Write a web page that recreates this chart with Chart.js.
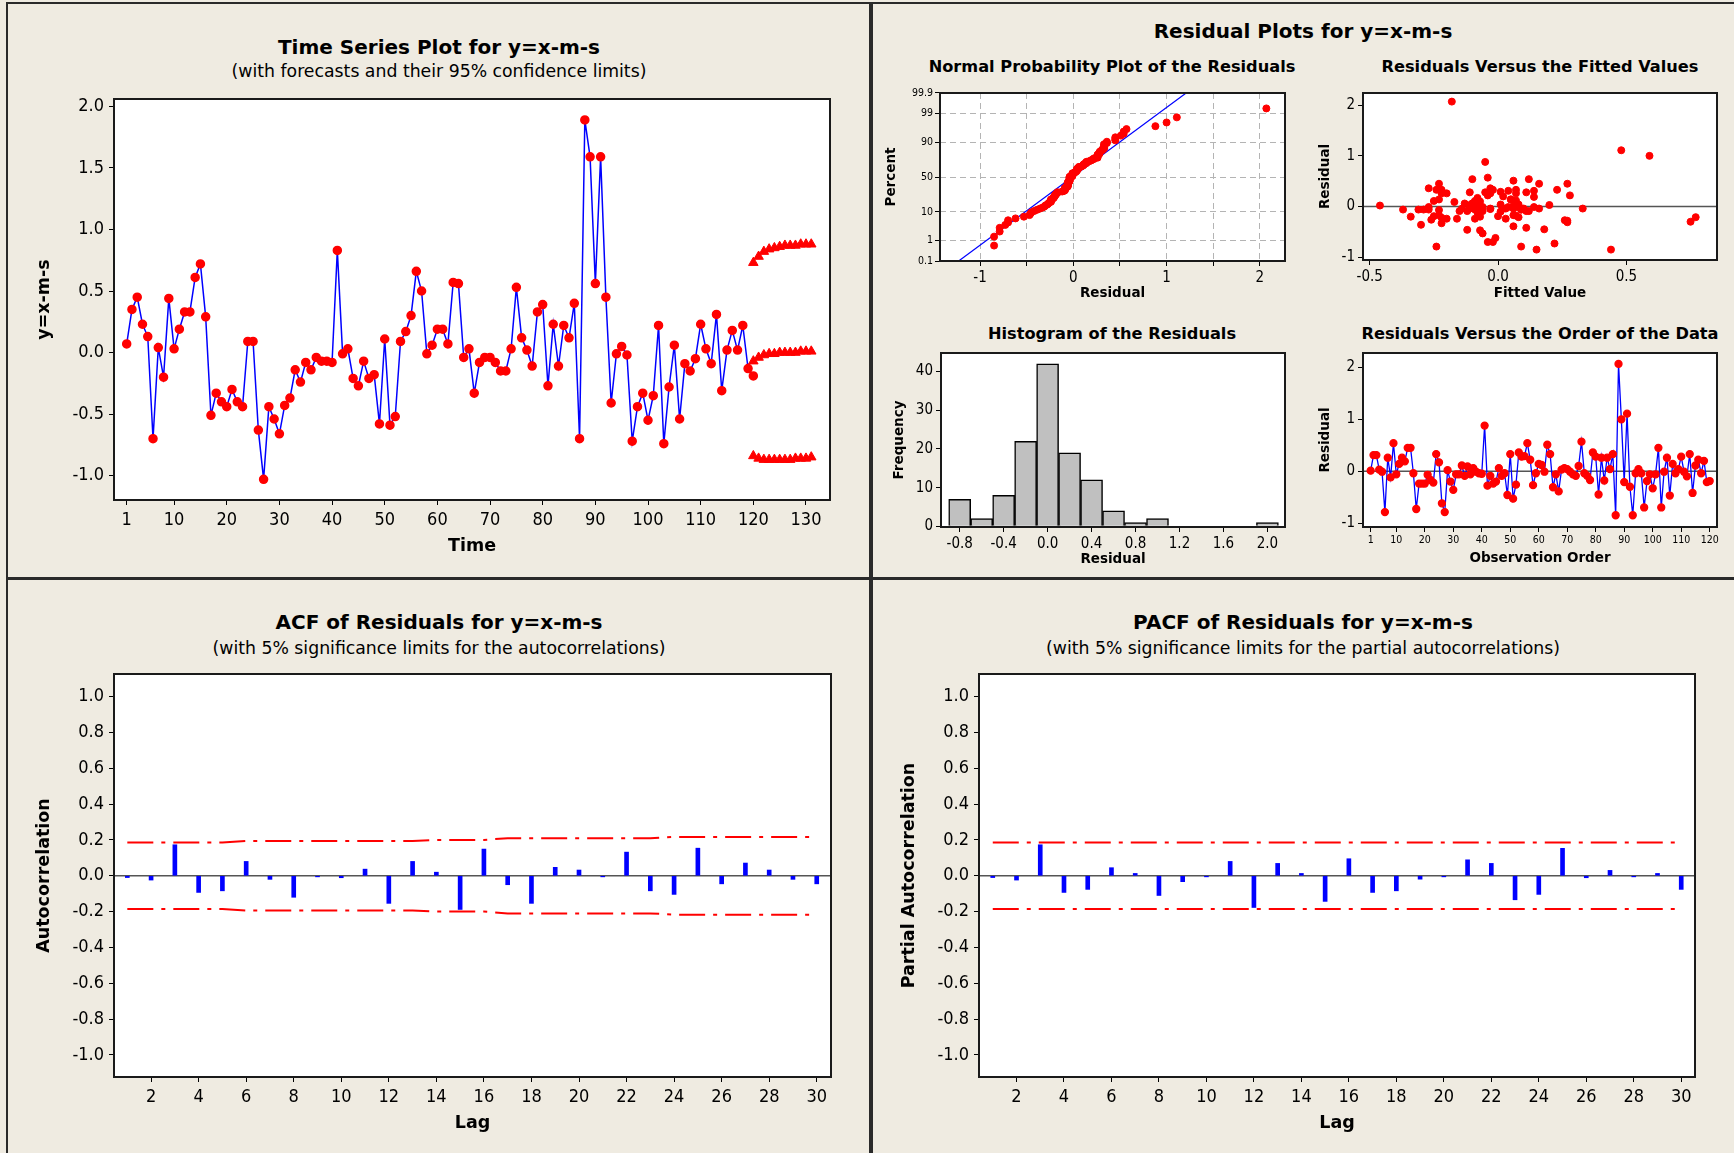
<!DOCTYPE html>
<html>
<head>
<meta charset="utf-8">
<title>ARIMA residual diagnostics</title>
<script src="https://cdn.jsdelivr.net/npm/chart.js@4.4.1/dist/chart.umd.min.js"></script>
<style>
  body {
    margin: 0;
    width: 1734px;
    height: 1153px;
    position: relative;
    overflow: hidden;
    background: #EFEBE1;
    font-family: 'DejaVu Sans', sans-serif;
  }
  .plot { position: absolute; }
  .ttl { position: absolute; text-align: center; white-space: nowrap; color: #000; }
  .rule { position: absolute; background: #2a2a2a; }
</style>
</head>
<body>
<script>
// ---- time series (observed + forecasts) ----
const tsValues = [
    0.07, 0.35, 0.45, 0.23, 0.13, -0.70, 0.04, -0.20, 0.44, 0.03,
    0.19, 0.33, 0.33, 0.61, 0.72, 0.29, -0.51, -0.33, -0.40, -0.44,
    -0.30, -0.40, -0.44, 0.09, 0.09, -0.63, -1.03, -0.44, -0.54, -0.66,
    -0.43, -0.37, -0.14, -0.24, -0.08, -0.14, -0.04, -0.07, -0.07, -0.08,
    0.83, -0.01, 0.03, -0.21, -0.27, -0.07, -0.21, -0.18, -0.58, 0.11,
    -0.59, -0.52, 0.09, 0.17, 0.30, 0.66, 0.50, -0.01, 0.06, 0.19,
    0.19, 0.07, 0.57, 0.56, -0.04, 0.03, -0.33, -0.08, -0.04, -0.04,
    -0.08, -0.15, -0.15, 0.03, 0.53, 0.12, 0.02, -0.11, 0.33, 0.39,
    -0.27, 0.23, -0.11, 0.22, 0.12, 0.40, -0.70, 1.89, 1.59, 0.56,
    1.59, 0.45, -0.41, -0.01, 0.05, -0.02, -0.72, -0.44, -0.33, -0.55,
    -0.35, 0.22, -0.74, -0.28, 0.06, -0.54, -0.09, -0.15, -0.05, 0.23,
    0.03, -0.09, 0.31, -0.31, 0.02, 0.18, 0.02, 0.22, -0.13, -0.19
];
const fcPeriods = [120, 121, 122, 123, 124, 125, 126, 127, 128, 129, 130, 131];
const fcUpper = [0.73, 0.78, 0.82, 0.84, 0.85, 0.86, 0.87, 0.87, 0.87, 0.88, 0.88, 0.88];
const fcMid = [-0.07, -0.04, -0.02, -0.01, -0.01, 0.00, 0.00, 0.00, 0.00, 0.01, 0.01, 0.01];
const fcLower = [-0.84, -0.86, -0.87, -0.87, -0.87, -0.87, -0.87, -0.87, -0.86, -0.86, -0.86, -0.85];
const tsXTicks = [1, 10, 20, 30, 40, 50, 60, 70, 80, 90, 100, 110, 120, 130];
const tsYTicks = [-1.0, -0.5, 0.0, 0.5, 1.0, 1.5, 2.0];

// ---- residuals in observation order ----
const residuals = [
    0.01, 0.31, 0.31, 0.03, -0.01, -0.79, 0.26, -0.12, 0.54, -0.06,
    0.14, 0.26, 0.19, 0.45, 0.45, -0.04, -0.73, -0.24, -0.24, -0.24,
    -0.07, -0.17, -0.22, 0.33, 0.17, -0.62, -0.79, 0.02, -0.20, -0.36,
    -0.06, -0.06, 0.11, -0.09, 0.09, -0.06, 0.06, -0.01, -0.04, -0.05,
    0.88, -0.28, -0.09, -0.24, -0.20, 0.06, -0.09, -0.04, -0.46, 0.33,
    -0.53, -0.26, 0.36, 0.28, 0.29, 0.54, 0.22, -0.27, -0.04, 0.14,
    0.12, -0.01, 0.51, 0.33, -0.31, -0.06, -0.39, 0.03, 0.06, 0.04,
    -0.01, -0.06, -0.09, 0.10, 0.57, -0.04, -0.09, -0.17, 0.36, 0.28,
    -0.45, 0.26, -0.18, 0.26, 0.04, 0.33, -0.85, 2.07, 1.00, -0.21,
    1.11, -0.30, -0.85, -0.04, 0.04, -0.04, -0.70, -0.19, -0.06, -0.33,
    -0.06, 0.45, -0.70, -0.01, 0.26, -0.47, 0.14, -0.04, 0.04, 0.28,
    -0.01, -0.10, 0.33, -0.42, 0.11, 0.22, -0.04, 0.20, -0.21, -0.19
];
const npPercentTicks = [0.1, 1, 10, 50, 90, 99, 99.9];
const npXTicks = [-1, -0.5, 0, 0.5, 1, 1.5, 2];
const npLineResid = [-1.23, 1.21];
const npLinePct = [0.1, 99.9];
const rfXTicks = [-0.5, 0.0, 0.5];
const resYTicks = [-1, 0, 1, 2];
const histBins = [-0.8, -0.6, -0.4, -0.2, 0.0, 0.2, 0.4, 0.6, 0.8, 1.0, 1.2, 1.4, 1.6, 1.8, 2.0];
const histCounts = [7, 2, 8, 22, 42, 19, 12, 4, 1, 2, 0, 0, 0, 0, 1];
const histXTicks = [-0.8, -0.4, 0.0, 0.4, 0.8, 1.2, 1.6, 2.0];
const histYTicks = [0, 10, 20, 30, 40];
const roXTicks = [1, 10, 20, 30, 40, 50, 60, 70, 80, 90, 100, 110, 120];

// ---- ACF / PACF ----
const lags = [1, 2, 3, 4, 5, 6, 7, 8, 9, 10, 11, 12, 13, 14, 15, 16, 17, 18, 19, 20, 21, 22, 23, 24, 25, 26, 27, 28, 29, 30];
const acfValues = [-0.010, -0.024, 0.173, -0.093, -0.084, 0.080, -0.020, -0.120, -0.006, -0.011,
    0.037, -0.154, 0.080, 0.020, -0.188, 0.149, -0.050, -0.154, 0.047, 0.032,
    -0.006, 0.132, -0.084, -0.104, 0.154, -0.045, 0.071, 0.032, -0.020, -0.045];
const acfUpper = [0.185, 0.185, 0.185, 0.185, 0.185, 0.194, 0.194, 0.194, 0.194, 0.194,
    0.194, 0.194, 0.194, 0.200, 0.200, 0.200, 0.210, 0.210, 0.210, 0.210,
    0.210, 0.210, 0.210, 0.217, 0.217, 0.217, 0.217, 0.217, 0.217, 0.217];
const acfLower = [-0.185, -0.185, -0.185, -0.185, -0.185, -0.194, -0.194, -0.194, -0.194, -0.194,
    -0.194, -0.194, -0.194, -0.200, -0.200, -0.200, -0.210, -0.210, -0.210, -0.210,
    -0.210, -0.210, -0.210, -0.217, -0.217, -0.217, -0.217, -0.217, -0.217, -0.217];
const pacfValues = [-0.010, -0.024, 0.173, -0.093, -0.076, 0.045, 0.013, -0.110, -0.033, -0.006,
    0.080, -0.177, 0.069, 0.013, -0.143, 0.095, -0.093, -0.084, -0.019, -0.006,
    0.089, 0.069, -0.134, -0.104, 0.153, -0.011, 0.030, -0.006, 0.013, -0.076];
const pacfUpper = [0.186, 0.186, 0.186, 0.186, 0.186, 0.186, 0.186, 0.186, 0.186, 0.186,
    0.186, 0.186, 0.186, 0.186, 0.186, 0.186, 0.186, 0.186, 0.186, 0.186,
    0.186, 0.186, 0.186, 0.186, 0.186, 0.186, 0.186, 0.186, 0.186, 0.186];
const pacfLower = [-0.186, -0.186, -0.186, -0.186, -0.186, -0.186, -0.186, -0.186, -0.186, -0.186,
    -0.186, -0.186, -0.186, -0.186, -0.186, -0.186, -0.186, -0.186, -0.186, -0.186,
    -0.186, -0.186, -0.186, -0.186, -0.186, -0.186, -0.186, -0.186, -0.186, -0.186];
const lagTicks = [2, 4, 6, 8, 10, 12, 14, 16, 18, 20, 22, 24, 26, 28, 30];
const corrTicks = [-1.0, -0.8, -0.6, -0.4, -0.2, 0.0, 0.2, 0.4, 0.6, 0.8, 1.0];

const TICK_FONT = "'DejaVu Sans Condensed', 'DejaVu Sans', sans-serif";
const TEXT_FONT = "'DejaVu Sans', sans-serif";
const RED = '#FF0000';
const BLUE = '#0000FF';

// white plot area + black box around it
Chart.register({
    id: 'frame',
    beforeDraw(chart) {
        const a = chart.chartArea, ctx = chart.ctx;
        ctx.save();
        ctx.fillStyle = '#FFFFFF';
        ctx.fillRect(a.left, a.top, a.right - a.left, a.bottom - a.top);
        ctx.restore();
    },
    afterDraw(chart) {
        const a = chart.chartArea, ctx = chart.ctx;
        ctx.save();
        ctx.strokeStyle = '#1a1a1a';
        ctx.lineWidth = 2;
        ctx.strokeRect(a.left, a.top, a.right - a.left, a.bottom - a.top);
        ctx.restore();
    }
});

// horizontal reference line (zero line)
Chart.register({
    id: 'refLine',
    beforeDatasetsDraw(chart, args, opts) {
        if (opts.y === undefined) return;
        const a = chart.chartArea, ctx = chart.ctx;
        const y = chart.scales.y.getPixelForValue(opts.y);
        ctx.save();
        ctx.strokeStyle = '#555555';
        ctx.lineWidth = 1.5;
        ctx.beginPath();
        ctx.moveTo(a.left, y);
        ctx.lineTo(a.right, y);
        ctx.stroke();
        ctx.restore();
    }
});

Chart.defaults.animation = false;
Chart.defaults.events = [];
Chart.defaults.plugins.legend.display = false;
Chart.defaults.plugins.tooltip.enabled = false;

// inverse of the standard normal CDF (Acklam)
function probit(p) {
    const a = [-3.969683028665376e+01, 2.209460984245205e+02, -2.759285104469687e+02, 1.383577518672690e+02, -3.066479806614716e+01, 2.506628277459239e+00];
    const b = [-5.447609879822406e+01, 1.615858368580409e+02, -1.556989798598866e+02, 6.680131188771972e+01, -1.328068155288572e+01];
    const c = [-7.784894002430293e-03, -3.223964580411365e-01, -2.400758277161838e+00, -2.549732539343734e+00, 4.374664141464968e+00, 2.938163982698783e+00];
    const d = [7.784695709041462e-03, 3.224671290700398e-01, 2.445134137142996e+00, 3.754408661907416e+00];
    const lo = 0.02425;
    let q, r;
    if (p < lo) {
        q = Math.sqrt(-2 * Math.log(p));
        return (((((c[0] * q + c[1]) * q + c[2]) * q + c[3]) * q + c[4]) * q + c[5]) / ((((d[0] * q + d[1]) * q + d[2]) * q + d[3]) * q + 1);
    }
    if (p > 1 - lo) {
        q = Math.sqrt(-2 * Math.log(1 - p));
        return -(((((c[0] * q + c[1]) * q + c[2]) * q + c[3]) * q + c[4]) * q + c[5]) / ((((d[0] * q + d[1]) * q + d[2]) * q + d[3]) * q + 1);
    }
    q = p - 0.5;
    r = q * q;
    return (((((a[0] * r + a[1]) * r + a[2]) * r + a[3]) * r + a[4]) * r + a[5]) * q / (((((b[0] * r + b[1]) * r + b[2]) * r + b[3]) * r + b[4]) * r + 1);
}

function addTitle(text, cx, cy, size, bold) {
    const el = document.createElement('div');
    el.className = 'ttl';
    el.textContent = text;
    el.style.left = (cx - 400) + 'px';
    el.style.width = '800px';
    el.style.top = (cy - size * 0.6) + 'px';
    el.style.lineHeight = (size * 1.2) + 'px';
    el.style.fontSize = size + 'px';
    el.style.fontWeight = bold ? 'bold' : 'normal';
    document.body.appendChild(el);
}

function addRule(x, y, w, h) {
    const el = document.createElement('div');
    el.className = 'rule';
    el.style.left = x + 'px';
    el.style.top = y + 'px';
    el.style.width = w + 'px';
    el.style.height = h + 'px';
    document.body.appendChild(el);
}

// box = plot-area rectangle; yw / xh = room for the y and x axes
function makeCanvas(box, yw, xh, pt, pr) {
    const div = document.createElement('div');
    div.className = 'plot';
    div.style.left = (box.L - yw) + 'px';
    div.style.top = (box.T - pt) + 'px';
    div.style.width = (box.R - box.L + yw + pr) + 'px';
    div.style.height = (box.B - box.T + pt + xh) + 'px';
    const canvas = document.createElement('canvas');
    div.appendChild(canvas);
    document.body.appendChild(div);
    return canvas;
}

function axis(o) {
    return {
        type: 'linear',
        min: o.min,
        max: o.max,
        offset: false,
        afterBuildTicks: s => { s.ticks = o.ticks.map(v => ({ value: v })); },
        afterFit: s => {
            if (s.isHorizontal()) s.height = o.size; else s.width = o.size;
            s.paddingLeft = s.paddingRight = s.paddingTop = s.paddingBottom = 0;
        },
        grid: {
            drawOnChartArea: !!o.gridDash,
            offset: false,
            color: o.gridDash ? '#b4b4b4' : '#000',
            lineWidth: 1,
            tickColor: '#000',
            tickLength: 5
        },
        border: { display: false, dash: o.gridDash || [] },
        ticks: {
            font: { family: TICK_FONT, size: o.tickSize },
            color: '#000',
            padding: o.tickPad !== undefined ? o.tickPad : 4,
            maxRotation: 0,
            autoSkip: false,
            callback: o.fmt || (v => String(v))
        },
        title: {
            display: true,
            text: o.title,
            font: { family: TEXT_FONT, size: o.titleSize, weight: 'bold' },
            color: '#000',
            padding: 0
        }
    };
}

const fix1 = v => v.toFixed(1);

// ---------- panel frames ----------
addRule(6, 2, 1728, 2);
addRule(6, 2, 2, 1151);
addRule(869, 2, 4, 1151);
addRule(6, 577, 1728, 3);

// ---------- titles ----------
addTitle('Time Series Plot for y=x-m-s', 439, 47, 20, true);
addTitle('(with forecasts and their 95% confidence limits)', 439, 71, 17.3, false);
addTitle('Residual Plots for y=x-m-s', 1303, 31, 20, true);
addTitle('Normal Probability Plot of the Residuals', 1112, 67, 16.2, true);
addTitle('Residuals Versus the Fitted Values', 1540, 67, 16.2, true);
addTitle('Histogram of the Residuals', 1112, 334, 16.2, true);
addTitle('Residuals Versus the Order of the Data', 1540, 334, 16.2, true);
addTitle('ACF of Residuals for y=x-m-s', 439, 622, 20, true);
addTitle('(with 5% significance limits for the autocorrelations)', 439, 648, 17.3, false);
addTitle('PACF of Residuals for y=x-m-s', 1303, 622, 20, true);
addTitle('(with 5% significance limits for the partial autocorrelations)', 1303, 648, 17.3, false);

// ---------- time series with forecasts ----------
new Chart(makeCanvas({ L: 114, T: 99, R: 830, B: 500 }, 80, 57, 10, 30), {
    type: 'scatter',
    data: {
        datasets: [
            {
                data: tsValues.map((v, i) => ({ x: i + 1, y: v })),
                showLine: true,
                borderColor: BLUE,
                borderWidth: 1.5,
                pointRadius: 4,
                pointBackgroundColor: RED,
                pointBorderColor: RED
            },
            ...[fcUpper, fcMid, fcLower].map(arr => ({
                data: arr.map((v, i) => ({ x: fcPeriods[i], y: v })),
                pointStyle: 'triangle',
                pointRadius: 5.5,
                pointBackgroundColor: RED,
                pointBorderColor: RED
            }))
        ]
    },
    options: {
        responsive: true,
        maintainAspectRatio: false,
        layout: { padding: { top: 10, right: 30, left: 0, bottom: 0 } },
        scales: {
            x: axis({ min: -1.41, max: 134.56, ticks: tsXTicks, size: 57, tickSize: 18, tickPad: 5, title: 'Time', titleSize: 17.5 }),
            y: axis({ min: -1.198, max: 2.06, ticks: tsYTicks, size: 80, tickSize: 18, tickPad: 5, title: 'y=x-m-s', titleSize: 17.5, fmt: fix1 })
        }
    }
});

// ---------- normal probability plot ----------
// plotting positions (i - 0.3) / (n + 0.4) on a normal-score axis
const sortedRes = residuals.slice().sort((a, b) => a - b);
const nRes = sortedRes.length;
new Chart(makeCanvas({ L: 940, T: 93, R: 1285, B: 261 }, 57, 41, 8, 14), {
    type: 'scatter',
    data: {
        datasets: [
            {
                data: sortedRes.map((v, i) => ({ x: v, y: probit((i + 1 - 0.3) / (nRes + 0.4)) })),
                pointRadius: 3.5,
                pointBackgroundColor: RED,
                pointBorderColor: RED
            },
            {
                data: npLineResid.map((v, i) => ({ x: v, y: probit(npLinePct[i] / 100) })),
                showLine: true,
                borderColor: BLUE,
                borderWidth: 1.2,
                pointRadius: 0
            }
        ]
    },
    options: {
        responsive: true,
        maintainAspectRatio: false,
        layout: { padding: { top: 8, right: 14, left: 0, bottom: 0 } },
        scales: {
            x: axis({ min: -1.43, max: 2.27, ticks: npXTicks, size: 41, tickSize: 15, tickPad: 3, title: 'Residual', titleSize: 13.5,
                gridDash: [6, 4], fmt: v => Number.isInteger(v) ? String(v) : '' }),
            y: axis({ min: probit(0.001), max: probit(0.999), ticks: npPercentTicks.map(p => probit(p / 100)), size: 57,
                tickSize: 10.5, tickPad: 2, title: 'Percent', titleSize: 13.5, gridDash: [6, 4],
                fmt: (v, i) => String(npPercentTicks[i]) })
        }
    }
});

// ---------- residuals versus fitted values ----------
// fitted value = observed value - residual
const fitted = tsValues.map((v, i) => v - residuals[i]);
new Chart(makeCanvas({ L: 1363, T: 93, R: 1717, B: 260 }, 46, 42, 8, 14), {
    type: 'scatter',
    data: {
        datasets: [{
            data: fitted.map((f, i) => ({ x: f, y: residuals[i] })),
            pointRadius: 3.5,
            pointBackgroundColor: RED,
            pointBorderColor: RED
        }]
    },
    options: {
        responsive: true,
        maintainAspectRatio: false,
        layout: { padding: { top: 8, right: 14, left: 0, bottom: 0 } },
        plugins: { refLine: { y: 0 } },
        scales: {
            x: axis({ min: -0.526, max: 0.853, ticks: rfXTicks, size: 42, tickSize: 15, tickPad: 3, title: 'Fitted Value', titleSize: 13.5, fmt: fix1 }),
            y: axis({ min: -1.055, max: 2.24, ticks: resYTicks, size: 46, tickSize: 15, tickPad: 3, title: 'Residual', titleSize: 13.5 })
        }
    }
});

// ---------- histogram ----------
new Chart(makeCanvas({ L: 941, T: 353, R: 1285, B: 527 }, 50, 41, 8, 14), {
    type: 'bar',
    data: {
        datasets: [{
            data: histBins.map((b, i) => ({ x: b, y: histCounts[i] })),
            backgroundColor: '#C0C0C0',
            borderColor: '#000',
            borderWidth: 1.5,
            barPercentage: 1,
            categoryPercentage: 1
        }]
    },
    options: {
        responsive: true,
        maintainAspectRatio: false,
        layout: { padding: { top: 8, right: 14, left: 0, bottom: 0 } },
        scales: {
            x: axis({ min: -0.97, max: 2.16, ticks: histXTicks, size: 41, tickSize: 15, tickPad: 3, title: 'Residual', titleSize: 13.5, fmt: fix1 }),
            y: axis({ min: -0.17, max: 44.8, ticks: histYTicks, size: 50, tickSize: 15, tickPad: 3, title: 'Frequency', titleSize: 13.5 })
        }
    }
});

// ---------- residuals versus order ----------
new Chart(makeCanvas({ L: 1363, T: 353, R: 1717, B: 527 }, 46, 40, 8, 14), {
    type: 'scatter',
    data: {
        datasets: [{
            data: residuals.map((v, i) => ({ x: i + 1, y: v })),
            showLine: true,
            borderColor: BLUE,
            borderWidth: 1.3,
            pointRadius: 3.5,
            pointBackgroundColor: RED,
            pointBorderColor: RED
        }]
    },
    options: {
        responsive: true,
        maintainAspectRatio: false,
        layout: { padding: { top: 8, right: 14, left: 0, bottom: 0 } },
        plugins: { refLine: { y: 0 } },
        scales: {
            x: axis({ min: -1.69, max: 122.57, ticks: roXTicks, size: 40, tickSize: 10.5, tickPad: 2, title: 'Observation Order', titleSize: 13.5 }),
            y: axis({ min: -1.077, max: 2.28, ticks: resYTicks, size: 46, tickSize: 15, tickPad: 3, title: 'Residual', titleSize: 13.5 })
        }
    }
});

// ---------- ACF / PACF ----------
function corrChart(box, values, upper, lower, xMin, xMax, yTitle) {
    const limitStyle = {
        type: 'line',
        borderColor: RED,
        borderWidth: 2,
        borderDash: [26, 8, 4, 8],
        pointRadius: 0,
        tension: 0
    };
    new Chart(makeCanvas(box, 80, 57, 10, 20), {
        type: 'bar',
        data: {
            datasets: [
                { data: values.map((v, i) => ({ x: lags[i], y: v })), backgroundColor: BLUE, barThickness: 4 },
                { ...limitStyle, data: upper.map((v, i) => ({ x: lags[i], y: v })) },
                { ...limitStyle, data: lower.map((v, i) => ({ x: lags[i], y: v })) }
            ]
        },
        options: {
            responsive: true,
            maintainAspectRatio: false,
            layout: { padding: { top: 10, right: 20, left: 0, bottom: 0 } },
            plugins: { refLine: { y: 0 } },
            scales: {
                x: axis({ min: xMin, max: xMax, ticks: lagTicks, size: 57, tickSize: 18, tickPad: 5, title: 'Lag', titleSize: 17.5 }),
                y: axis({ min: -1.123, max: 1.126, ticks: corrTicks, size: 80, tickSize: 18, tickPad: 5, title: yTitle, titleSize: 17.5, fmt: fix1 })
            }
        }
    });
}

corrChart({ L: 114, T: 674, R: 831, B: 1077 }, acfValues, acfUpper, acfLower, 0.44, 30.6, 'Autocorrelation');
corrChart({ L: 979, T: 674, R: 1695, B: 1077 }, pacfValues, pacfUpper, pacfLower, 0.42, 30.58, 'Partial Autocorrelation');
</script>
</body>
</html>
